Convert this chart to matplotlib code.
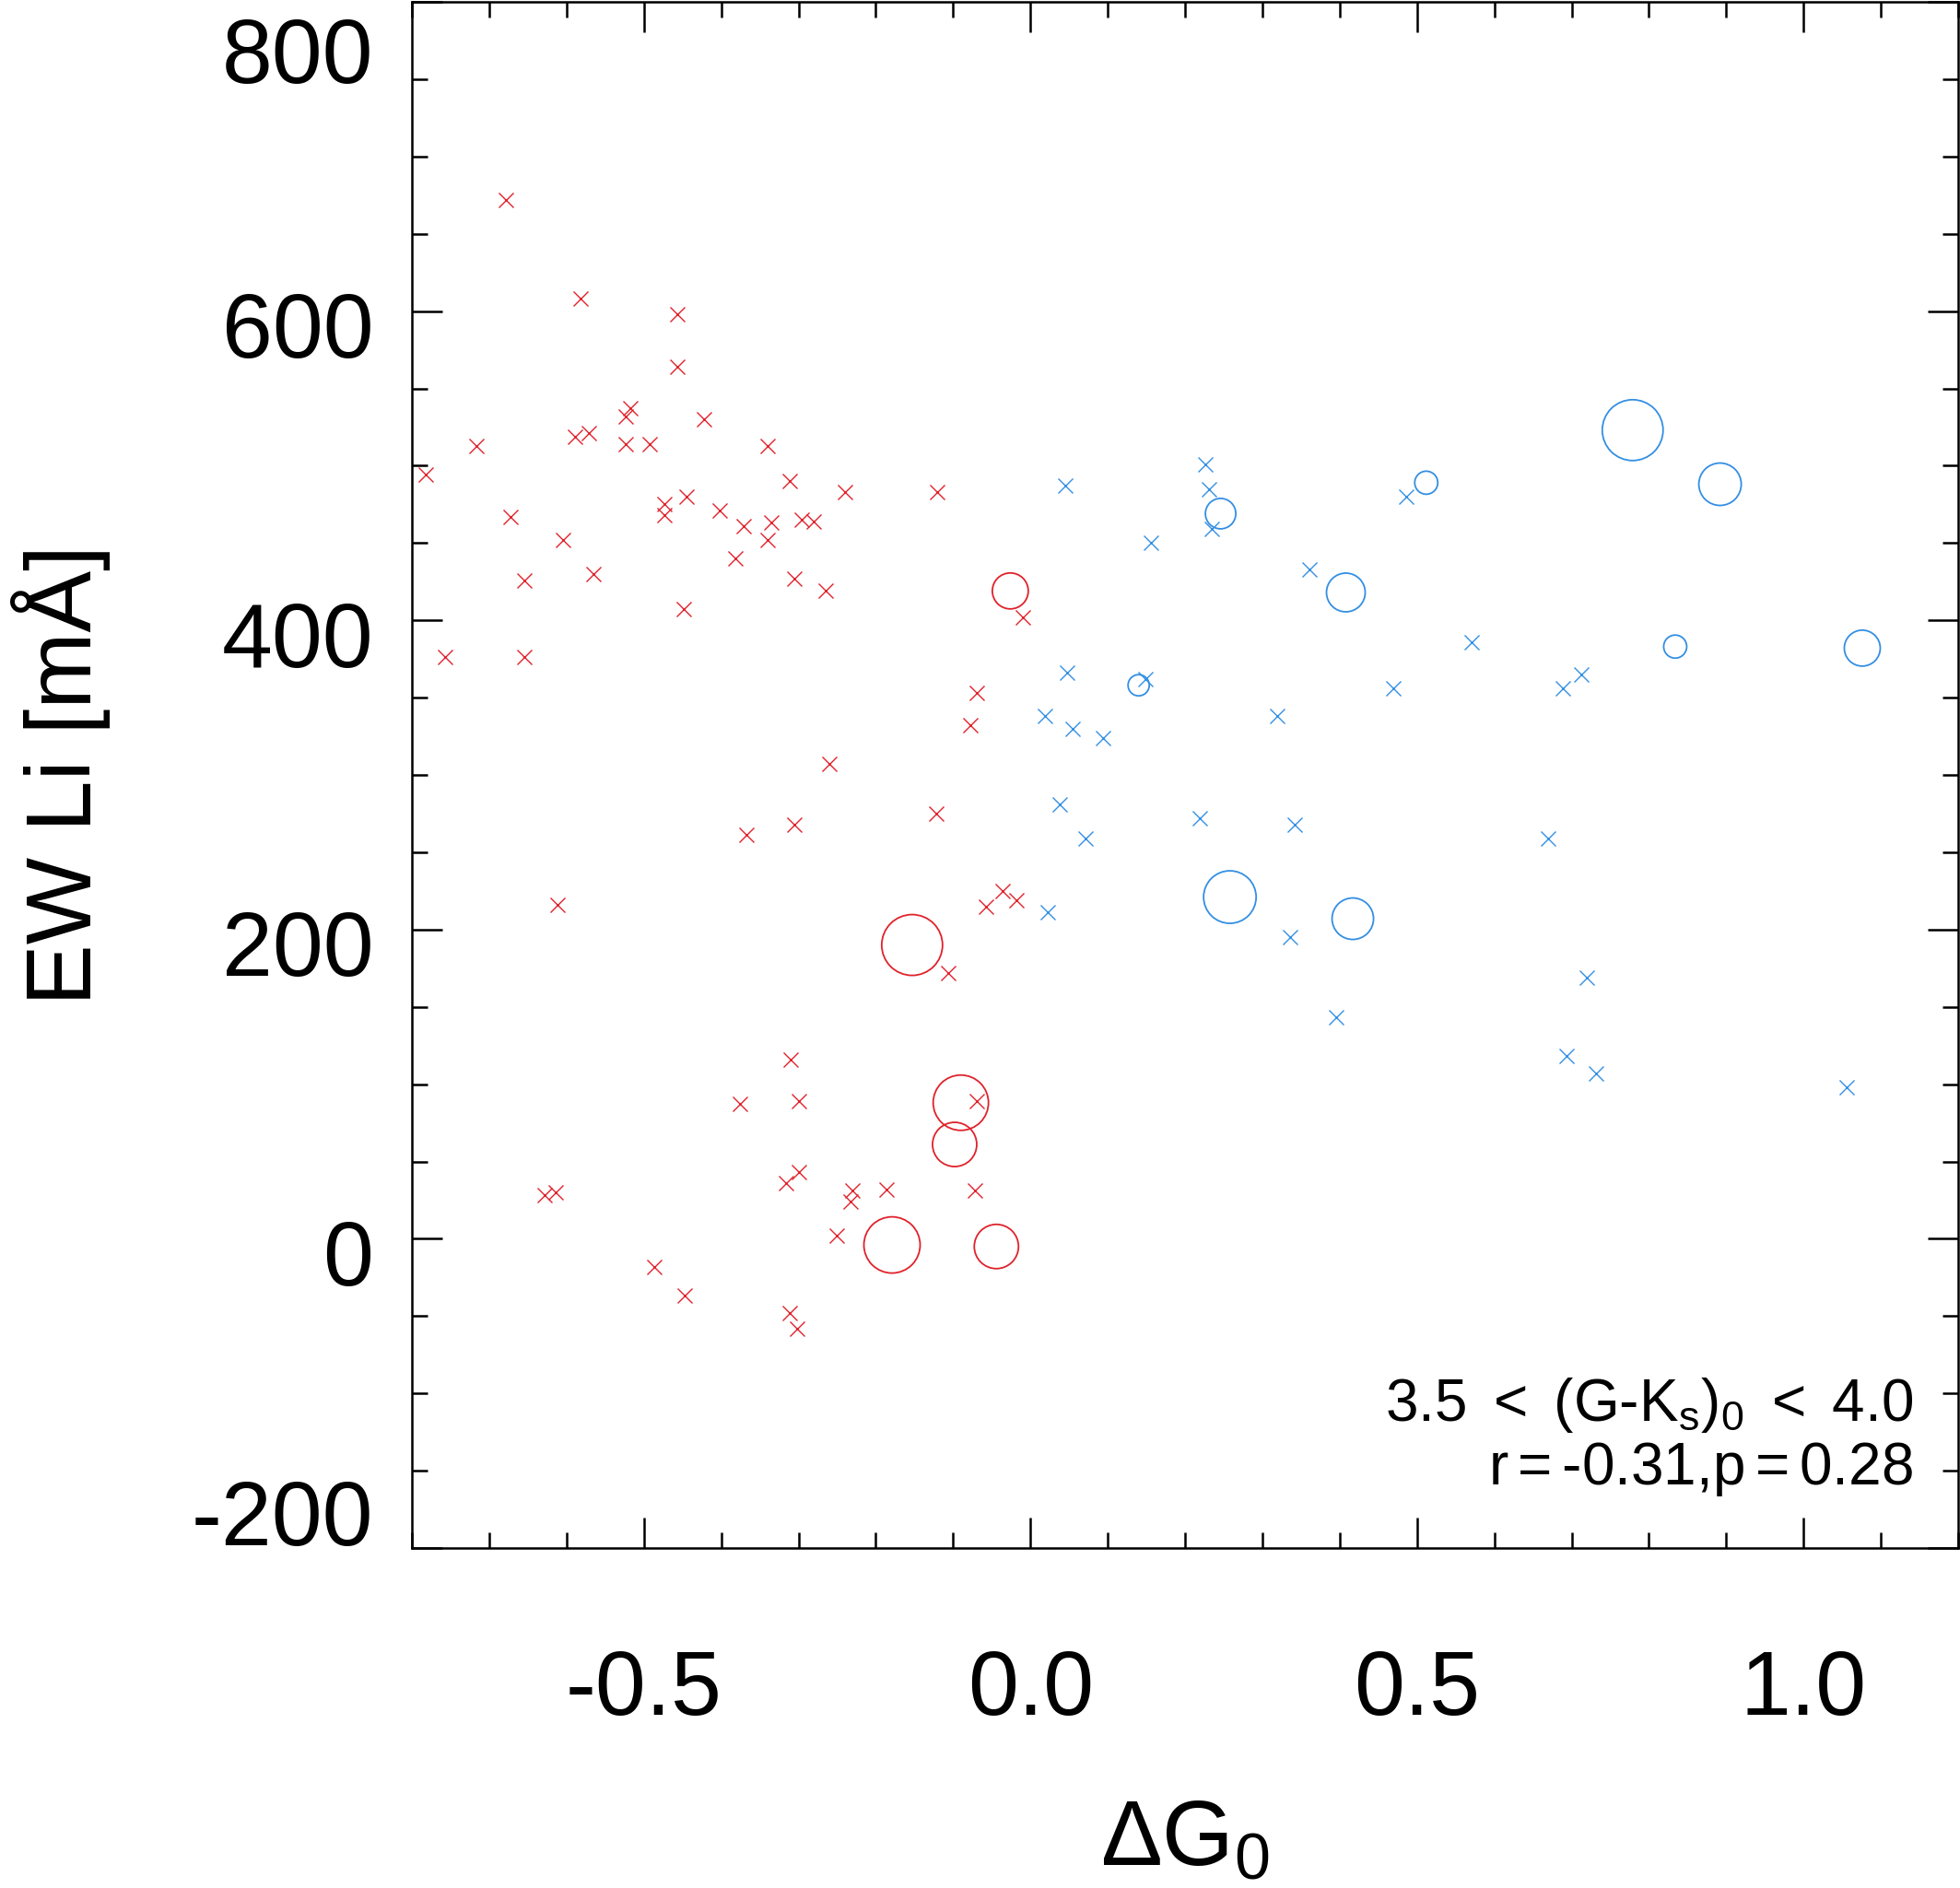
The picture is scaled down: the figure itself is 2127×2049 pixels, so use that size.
import numpy as np
import matplotlib
matplotlib.use('Agg')
import matplotlib.pyplot as plt
import matplotlib.transforms as mtransforms
from matplotlib.ticker import MultipleLocator

# datos
rojo_x = [-0.679, -0.782, -0.757, -0.717, -0.672, -0.654, -0.655, -0.605, -0.582, -0.589,
          -0.571, -0.565, -0.524, -0.518, -0.524, -0.492, -0.474, -0.474, -0.457, -0.457,
          -0.445, -0.448, -0.422, -0.402, -0.382, -0.371, -0.340, -0.340, -0.335, -0.311,
          -0.305, -0.296, -0.280, -0.265, -0.240, -0.121, -0.010, -0.069, -0.078, -0.260,
          -0.122, -0.305, -0.367, -0.612, -0.057, -0.036, -0.018, -0.106, -0.310, -0.376,
          -0.300, -0.069, -0.628, -0.614, -0.316, -0.300, -0.230, -0.233, -0.186, -0.072,
          -0.251, -0.487, -0.447, -0.311, -0.302]
rojo_y = [672, 494, 376, 513, 467, 426, 376, 452, 608, 519,
          521, 430, 532, 537, 514, 514, 475, 468, 598, 564,
          480, 407, 530, 471, 440, 461, 513, 452, 463, 490,
          427, 465, 464, 419, 483, 483, 402, 353, 332, 307,
          275, 268, 261, 216, 215, 225, 219, 172, 116, 87,
          89, 89, 28, 30, 36, 43, 31, 24, 32, 31,
          2, -18, -37, -48, -58]

azul_x = [0.045, 0.226, 0.231, 0.234, 0.156, 0.486, 0.361, 0.571, 0.048, 0.149,
          0.019, 0.055, 0.094, 0.469, 0.689, 0.713, 0.319, 0.038, 0.219, 0.342,
          0.670, 0.071, 0.022, 0.336, 0.720, 0.396, 0.694, 0.731, 1.056]
azul_y = [487, 501, 485, 459, 450, 480, 433, 386, 366, 362,
          338, 330, 324, 356, 356, 365, 338, 281, 272, 268,
          259, 259, 211, 195, 169, 143, 118, 107, 98]

# circulos (tamano = radio en px)
rojo_cx = [-0.026, -0.153, -0.090, -0.098, -0.179, -0.044]
rojo_cy = [419, 190, 88, 61, -4, -5]
rojo_cr = [19.5, 33, 30, 24, 30.5, 24]

azul_cx = [0.779, 0.892, 0.512, 0.246, 0.408, 0.834, 1.076, 0.140, 0.258, 0.417]
azul_cy = [523, 488, 489, 469, 418, 383, 382, 358, 221, 207]
azul_cr = [33, 23, 12.5, 16.5, 21, 12.5, 19.5, 11.5, 28.5, 22.5]

x_ticks = [-0.5, 0.0, 0.5, 1.0]
x_labels = ['-0.5', '0.0', '0.5', '1.0']
y_ticks = [-200, 0, 200, 400, 600, 800]
y_labels = ['-200', '0', '200', '400', '600', '800']

ROJO = '#E0222B'
AZUL = '#338FE3'

plt.rcParams['font.family'] = ['Liberation Sans', 'DejaVu Sans']
plt.rcParams['mathtext.fontset'] = 'custom'
plt.rcParams['mathtext.rm'] = 'Liberation Sans'
plt.rcParams['mathtext.it'] = 'Liberation Sans'
plt.rcParams['mathtext.bf'] = 'Liberation Sans:bold'
plt.rcParams['axes.unicode_minus'] = False

W, H = 2127, 2049
dpi = 100
fig = plt.figure(figsize=(W / dpi, H / dpi), dpi=dpi)
izq, der, arr, aba = 447, 2125, 2, 1680
ax = fig.add_axes([izq / W, 1 - aba / H, (der - izq) / W, (aba - arr) / H])

ax.plot(rojo_x, rojo_y, 'x', color=ROJO, markersize=11.5, markeredgewidth=1.0)
ax.plot(azul_x, azul_y, 'x', color=AZUL, markersize=11.5, markeredgewidth=1.0)
ax.scatter(rojo_cx, rojo_cy, s=(2 * np.array(rojo_cr) * 0.72) ** 2, facecolors='none',
           edgecolors=ROJO, linewidths=1.3)
ax.scatter(azul_cx, azul_cy, s=(2 * np.array(azul_cr) * 0.72) ** 2, facecolors='none',
           edgecolors=AZUL, linewidths=1.3)

ax.set_xlim(-0.8, 1.2)
ax.set_ylim(-200, 800)
ax.set_xticks(x_ticks)
ax.set_xticklabels(x_labels)
ax.set_yticks(y_ticks)
ax.set_yticklabels(y_labels)
ax.xaxis.set_minor_locator(MultipleLocator(0.1))
ax.yaxis.set_minor_locator(MultipleLocator(50))
ax.tick_params(which='both', direction='in', top=True, right=True, width=1.8, color='black')
ax.tick_params(which='major', length=24)
ax.tick_params(which='minor', length=12)
ax.tick_params(axis='x', which='major', labelsize=71, pad=79)
ax.tick_params(axis='y', which='major', labelsize=71, pad=30)
for s in ax.spines.values():
    s.set_linewidth(1.8)

# desplazar etiquetas y como en el original
desp = {'800': -52, '-200': 39}
for lab, txt in zip(ax.get_yticklabels(), y_labels):
    dy = desp.get(txt, -15)
    off = mtransforms.ScaledTranslation(0, dy / dpi, fig.dpi_scale_trans)
    lab.set_transform(lab.get_transform() + off)

ax.set_ylabel('EW Li [mÅ]', fontsize=72)
ax.yaxis.set_label_coords(-0.195, 0.5)
ax.set_xlabel(r'$\Delta$G$_0$', fontsize=72)
ax.xaxis.set_label_coords(0.5, -0.162)

ax.text(2076 / W, 1 - 1542 / H, r'3.5 $<$ (G-K$_s$)$_0$ $<$ 4.0', transform=fig.transFigure,
        ha='right', va='baseline', fontsize=46)
ax.text(2076 / W, 1 - 1611 / H, r'r$=$-0.31,p$=$0.28', transform=fig.transFigure,
        ha='right', va='baseline', fontsize=46)

fig.savefig('out.png', dpi=dpi)
